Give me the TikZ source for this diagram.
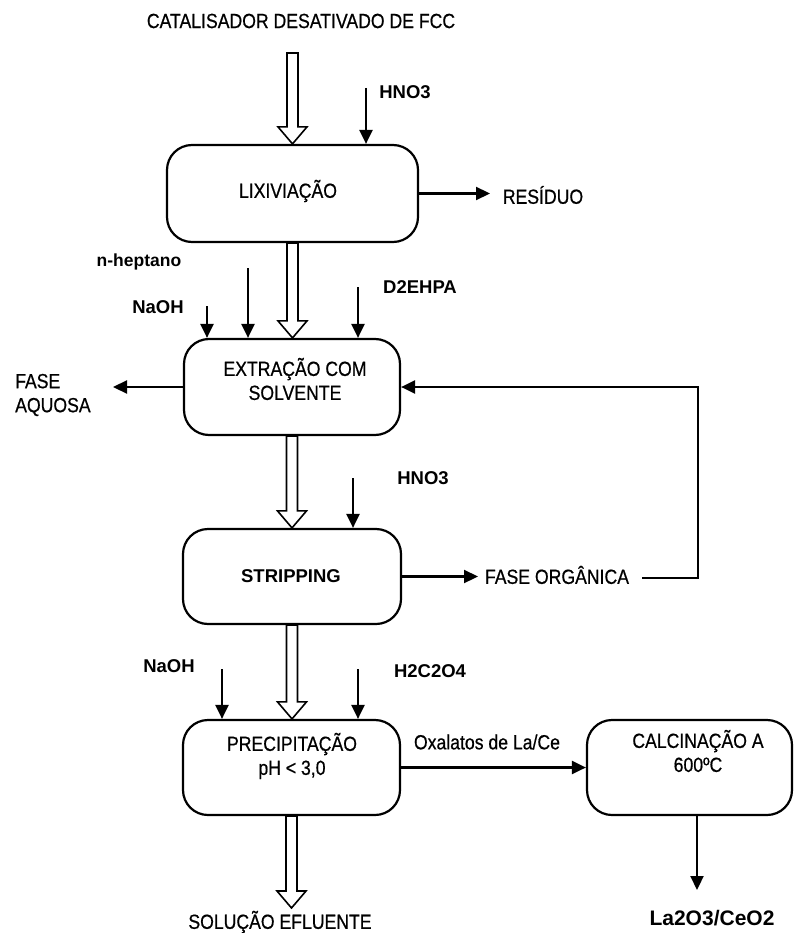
\documentclass[tikz,border=0pt]{standalone}
\usepackage{fontspec}
\setmainfont{Liberation Sans}
\newfontfamily\narrowfont[FakeStretch=0.86, FakeBold=0.6]{Liberation Sans}
\usepackage{tikz}
\usetikzlibrary{arrows.meta, calc}

\tikzset{
  stage/.style={draw, line width=2.2pt, rounded corners=25pt, inner sep=0pt, align=center},
  feed/.style={-{Triangle[length=14pt,width=13pt]}, line width=2.2pt},
  hollow/.style={draw, line width=1.6pt, line join=miter},
  txt/.style={inner sep=0pt, align=center, font=\narrowfont\fontsize{20.5}{24}\selectfont},
  chem/.style={inner sep=0pt, font=\bfseries\fontsize{18.5}{21}\selectfont},
}

% seta larga (vazada)
\newcommand{\hollowarrow}[2]{%
  \path[hollow] let \p1=(#1), \p2=(#2) in
    (\x1-5.5pt,\y1) -- (\x1-5.5pt,\y2+17pt) -- (\x1-14.5pt,\y2+17pt) -- (\x1,\y2)
    -- (\x1+14.5pt,\y2+17pt) -- (\x1+5.5pt,\y2+17pt) -- (\x1+5.5pt,\y1) -- cycle;}

\begin{document}
\begin{tikzpicture}[x=1pt, y=-1pt]
    \useasboundingbox (0,0) rectangle (795,933);

    % etapas
    \node[stage, minimum width=251, minimum height=97] (lix) at (292.5,193.5) {};
    \node[stage, minimum width=216, minimum height=96] (extr) at (292,387) {};
    \node[stage, minimum width=218, minimum height=95] (strip) at (292,576.5) {};
    \node[stage, minimum width=217, minimum height=95] (prec) at (291.5,767.5) {};
    \node[stage, minimum width=205, minimum height=95] (calc) at (689.5,767.5) {};

    % textos das etapas
    \node[txt] (lixT) at (288,191) {LIXIVIAÇÃO};
    \node[txt] (extrT) at (295,379) {EXTRAÇÃO COM\\SOLVENTE};
    \node[chem] (stripT) at (291,576) {STRIPPING};
    \node[txt] (precT) at (292,756) {PRECIPITAÇÃO\\pH < 3,0};
    \node[txt] (calcT) at (698,751) {CALCINAÇÃO A\\600ºC};

    % rótulos
    \node[txt] (cat) at (301,21) {CATALISADOR DESATIVADO DE FCC};
    \node[chem] (hno3a) at (405,92) {HNO3};
    \node[txt] (res) at (543,195) {RESÍDUO};
    \node[chem, font=\bfseries\fontsize{17.5}{21}\selectfont] (hept) at (139,262) {n-heptano};
    \node[chem] (naoha) at (158,307) {NaOH};
    \node[chem] (d2) at (420,287) {D2EHPA};
    \node[txt, anchor=west, align=left] (aq) at (15,395) {FASE\\AQUOSA};
    \node[chem] (hno3b) at (423,478) {HNO3};
    \node[txt] (org) at (557,575) {FASE ORGÂNICA};
    \node[chem] (naohb) at (169,666) {NaOH};
    \node[chem] (oxa) at (430,671) {H2C2O4};
    \node[txt] (oxal) at (487,742) {Oxalatos de La/Ce};
    \node[txt] (efl) at (280,922) {SOLUÇÃO EFLUENTE};
    \node[chem, font=\bfseries\fontsize{21}{24}\selectfont] (prod) at (712,918) {La2O3/CeO2};

    % pontos livres
    \coordinate (catIn) at (292.5,53);
    \coordinate (hno3aIn) at (366,88);
    \coordinate (resOut) at (490,193.5);
    \coordinate (heptIn) at (248,268);
    \coordinate (naohaIn) at (207,306);
    \coordinate (d2In) at (358,287);
    \coordinate (aqOut) at (113,387);
    \coordinate (hno3bIn) at (353,478);
    \coordinate (orgOut) at (478,576.5);
    \coordinate (orgIn) at (642,578);
    \coordinate (reciclo) at (698,480);
    \coordinate (naohbIn) at (222,669);
    \coordinate (oxaIn) at (358,669);
    \coordinate (eflOut) at (291.5,908);
    \coordinate (prodOut) at (697,890);

    % setas vazadas
    \hollowarrow{catIn}{lix.north}
    \hollowarrow{lix.south}{extr.north}
    \hollowarrow{extr.south}{strip.north}
    \hollowarrow{strip.south}{prec.north}
    \hollowarrow{prec.south}{eflOut}

    % setas
    \draw[feed] (hno3aIn) -- (hno3aIn |- lix.north);
    \draw[feed] (lix.east) -- (resOut);
    \draw[feed] (heptIn) -- (heptIn |- extr.north);
    \draw[feed] (naohaIn) -- (naohaIn |- extr.north);
    \draw[feed] (d2In) -- (d2In |- extr.north);
    \draw[feed] (extr.west) -- (aqOut);
    \draw[feed] (hno3bIn) -- (hno3bIn |- strip.north);
    \draw[feed] (strip.east) -- (orgOut);
    \draw[feed] (orgIn) -| (reciclo) |- (extr.east);
    \draw[feed] (naohbIn) -- (naohbIn |- prec.north);
    \draw[feed] (oxaIn) -- (oxaIn |- prec.north);
    \draw[feed] (prec.east) -- (calc.west);
    \draw[feed] (prodOut |- calc.south) -- (prodOut);
\end{tikzpicture}
\end{document}
